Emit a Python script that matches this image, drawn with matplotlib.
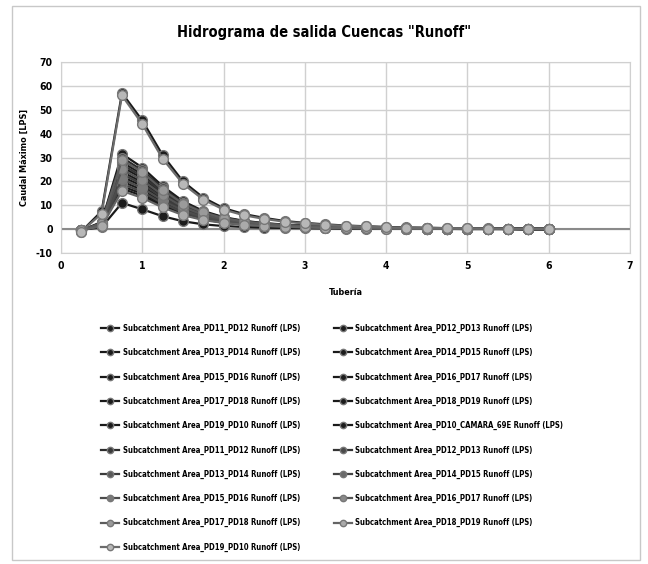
import matplotlib
matplotlib.use("Agg")
import matplotlib.pyplot as plt
from matplotlib.patches import Rectangle

plt.rcParams['font.family'] = ['DejaVu Sans']
plt.rcParams['font.stretch'] = 'condensed'
plt.rcParams['axes.unicode_minus'] = False

# tiempo (eje x)
x = [0.25, 0.5, 0.75, 1.0, 1.25, 1.5, 1.75, 2.0, 2.25, 2.5, 2.75, 3.0,
     3.25, 3.5, 3.75, 4.0, 4.25, 4.5, 4.75, 5.0, 5.25, 5.5, 5.75, 6.0]

labels = [
    "Subcatchment Area_PD11_PD12 Runoff (LPS)",
    "Subcatchment Area_PD12_PD13 Runoff (LPS)",
    "Subcatchment Area_PD13_PD14 Runoff (LPS)",
    "Subcatchment Area_PD14_PD15 Runoff (LPS)",
    "Subcatchment Area_PD15_PD16 Runoff (LPS)",
    "Subcatchment Area_PD16_PD17 Runoff (LPS)",
    "Subcatchment Area_PD17_PD18 Runoff (LPS)",
    "Subcatchment Area_PD18_PD19 Runoff (LPS)",
    "Subcatchment Area_PD19_PD10 Runoff (LPS)",
    "Subcatchment Area_PD10_CAMARA_69E Runoff (LPS)",
    "Subcatchment Area_PD11_PD12 Runoff (LPS)",
    "Subcatchment Area_PD12_PD13 Runoff (LPS)",
    "Subcatchment Area_PD13_PD14 Runoff (LPS)",
    "Subcatchment Area_PD14_PD15 Runoff (LPS)",
    "Subcatchment Area_PD15_PD16 Runoff (LPS)",
    "Subcatchment Area_PD16_PD17 Runoff (LPS)",
    "Subcatchment Area_PD17_PD18 Runoff (LPS)",
    "Subcatchment Area_PD18_PD19 Runoff (LPS)",
    "Subcatchment Area_PD19_PD10 Runoff (LPS)",
]

s01 = [-0.6, 3.0, 31.5, 25.8, 18.0, 11.7, 7.6, 5.0, 3.5, 2.5, 1.9, 1.4, 1.1, 0.8, 0.6, 0.5, 0.4, 0.3, 0.2, 0.2, 0.1, 0.1, 0.1, 0.1]
s02 = [-0.5, 2.5, 28.0, 23.0, 16.0, 10.4, 6.7, 4.5, 3.1, 2.2, 1.7, 1.3, 1.0, 0.7, 0.6, 0.4, 0.3, 0.3, 0.2, 0.1, 0.1, 0.1, 0.1, 0.1]
s03 = [-0.5, 2.0, 24.0, 19.7, 13.7, 8.9, 5.8, 3.8, 2.6, 1.9, 1.4, 1.1, 0.8, 0.6, 0.5, 0.4, 0.3, 0.2, 0.2, 0.1, 0.1, 0.1, 0.0, 0.0]
s04 = [-0.4, 1.6, 20.0, 16.4, 11.4, 7.4, 4.8, 3.2, 2.2, 1.6, 1.2, 0.9, 0.7, 0.5, 0.4, 0.3, 0.2, 0.2, 0.1, 0.1, 0.1, 0.1, 0.0, 0.0]
s05 = [-0.4, 1.4, 18.0, 14.8, 10.3, 6.7, 4.3, 2.9, 2.0, 1.4, 1.1, 0.8, 0.6, 0.5, 0.4, 0.3, 0.2, 0.2, 0.1, 0.1, 0.1, 0.1, 0.0, 0.0]
s06 = [-0.5, 2.2, 26.0, 21.3, 14.8, 9.6, 6.2, 4.2, 2.9, 2.1, 1.6, 1.2, 0.9, 0.7, 0.5, 0.4, 0.3, 0.2, 0.2, 0.1, 0.1, 0.1, 0.1, 0.1]
s07 = [-0.5, 1.8, 22.0, 18.0, 12.5, 8.1, 5.3, 3.5, 2.4, 1.8, 1.3, 1.0, 0.7, 0.6, 0.4, 0.3, 0.3, 0.2, 0.2, 0.1, 0.1, 0.1, 0.0, 0.0]
s08 = [-0.4, 1.3, 17.0, 13.9, 9.7, 6.3, 4.1, 2.7, 1.9, 1.4, 1.0, 0.8, 0.6, 0.4, 0.3, 0.3, 0.2, 0.2, 0.1, 0.1, 0.1, 0.1, 0.0, 0.0]
s09 = [-0.3, 0.8, 11.0, 8.3, 5.4, 3.3, 2.0, 1.3, 0.9, 0.6, 0.5, 0.4, 0.3, 0.2, 0.2, 0.1, 0.1, 0.1, 0.1, 0.0, 0.0, 0.0, 0.0, 0.0]
s10 = [-1.0, 7.5, 57.0, 45.5, 31.0, 20.0, 13.2, 8.8, 6.3, 4.7, 3.4, 2.6, 2.0, 1.5, 1.2, 0.9, 0.7, 0.6, 0.4, 0.3, 0.3, 0.2, 0.2, 0.1]
s11 = [-0.6, 2.8, 30.0, 24.6, 17.1, 11.1, 7.2, 4.8, 3.3, 2.4, 1.8, 1.4, 1.0, 0.8, 0.6, 0.5, 0.4, 0.3, 0.2, 0.2, 0.1, 0.1, 0.1, 0.1]
s12 = [-0.5, 2.4, 27.0, 22.1, 15.4, 10.0, 6.5, 4.3, 3.0, 2.2, 1.6, 1.2, 0.9, 0.7, 0.5, 0.4, 0.3, 0.2, 0.2, 0.1, 0.1, 0.1, 0.1, 0.1]
s13 = [-0.5, 1.9, 23.0, 18.9, 13.1, 8.5, 5.5, 3.7, 2.5, 1.8, 1.4, 1.0, 0.8, 0.6, 0.5, 0.3, 0.3, 0.2, 0.2, 0.1, 0.1, 0.1, 0.0, 0.0]
s14 = [-0.4, 1.5, 19.0, 15.6, 10.8, 7.0, 4.6, 3.0, 2.1, 1.5, 1.1, 0.9, 0.6, 0.5, 0.4, 0.3, 0.2, 0.2, 0.1, 0.1, 0.1, 0.1, 0.0, 0.0]
s15 = [-0.4, 1.7, 21.0, 17.2, 12.0, 7.8, 5.0, 3.4, 2.3, 1.7, 1.3, 0.9, 0.7, 0.5, 0.4, 0.3, 0.3, 0.2, 0.1, 0.1, 0.1, 0.1, 0.0, 0.0]
s16 = [-0.5, 2.1, 25.0, 20.5, 14.3, 9.3, 6.0, 4.0, 2.8, 2.0, 1.5, 1.1, 0.9, 0.7, 0.5, 0.4, 0.3, 0.2, 0.2, 0.1, 0.1, 0.1, 0.1, 0.1]
s17 = [-0.6, 2.6, 29.0, 23.8, 16.5, 10.7, 7.0, 4.6, 3.2, 2.3, 1.7, 1.3, 1.0, 0.8, 0.6, 0.4, 0.3, 0.3, 0.2, 0.1, 0.1, 0.1, 0.1, 0.1]
s18 = [-0.4, 1.2, 16.0, 13.1, 9.1, 5.9, 3.8, 2.6, 1.8, 1.3, 1.0, 0.7, 0.5, 0.4, 0.3, 0.2, 0.2, 0.1, 0.1, 0.1, 0.1, 0.0, 0.0, 0.0]
s19 = [-1.0, 6.5, 56.0, 44.0, 29.5, 19.0, 12.4, 8.2, 5.8, 4.3, 3.1, 2.4, 1.8, 1.4, 1.1, 0.8, 0.6, 0.5, 0.4, 0.3, 0.2, 0.2, 0.1, 0.1]

series = [s01, s02, s03, s04, s05, s06, s07, s08, s09, s10,
          s11, s12, s13, s14, s15, s16, s17, s18, s19]

# tonos de gris: primeras 10 oscuras, luego se aclaran
face = ['#1c1c1c'] * 10 + ['#3a3a3a', '#4a4a4a', '#5a5a5a', '#6a6a6a', '#7a7a7a',
                           '#8a8a8a', '#9a9a9a', '#aaaaaa', '#b8b8b8']
line = ['#1a1a1a'] * 10 + ['#2c2c2c', '#343434', '#3c3c3c', '#444444', '#4c4c4c',
                           '#545454', '#5c5c5c', '#646464', '#6c6c6c']

fig = plt.figure(figsize=(6.48, 5.64), dpi=100)
fig.patches.append(Rectangle((12 / 648, 4 / 564), 628 / 648, 554 / 564, transform=fig.transFigure,
                             fill=False, edgecolor='#c8c8c8', linewidth=1))
ax = fig.add_axes([61 / 648, 1 - 253 / 564, 569 / 648, 191 / 564])

handles = []
for i, s in enumerate(series):
    h, = ax.plot(x, s, color=line[i], linewidth=1.6, marker='o', markersize=7,
                 markerfacecolor=face[i], markeredgecolor='#777777', markeredgewidth=1,
                 label=labels[i], zorder=3)
    handles.append(h)

ax.set_xlim(0, 7)
ax.set_ylim(-10, 70)
ax.set_xticks(range(0, 8))
ax.set_yticks(range(-10, 71, 10))
ax.grid(True, color='#d0d0d0', linewidth=1)
ax.axhline(0, color='#8a8a8a', linewidth=1.5, zorder=2)
for sp in ax.spines.values():
    sp.set_color('#d0d0d0')
ax.tick_params(length=0, labelsize=7.5, pad=6)
for t in ax.get_xticklabels() + ax.get_yticklabels():
    t.set_fontweight('bold')

ax.set_xlabel("Tubería", fontsize=6.5, fontweight='bold', labelpad=12)
ax.set_ylabel("Caudal Máximo [LPS]", fontsize=6.5, fontweight='bold', labelpad=5)
fig.text(0.5, 1 - 33 / 564, 'Hidrograma de salida Cuencas "Runoff"', ha='center', va='center',
         fontsize=10.5, fontweight='bold')

# orden de la leyenda por filas como en Excel
order = list(range(0, 19, 2)) + list(range(1, 19, 2))
leg = fig.legend([handles[k] for k in order], [labels[k] for k in order],
                 loc='upper left', bbox_to_anchor=(97 / 648, 1 - 320 / 564), ncol=2,
                 frameon=False, fontsize=5.6, handlelength=2.3, handletextpad=0.5,
                 labelspacing=1.95, columnspacing=4.3, borderpad=0,
                 markerscale=0.65)
for t in leg.get_texts():
    t.set_fontweight('bold')

fig.savefig("out.png", dpi=100)
